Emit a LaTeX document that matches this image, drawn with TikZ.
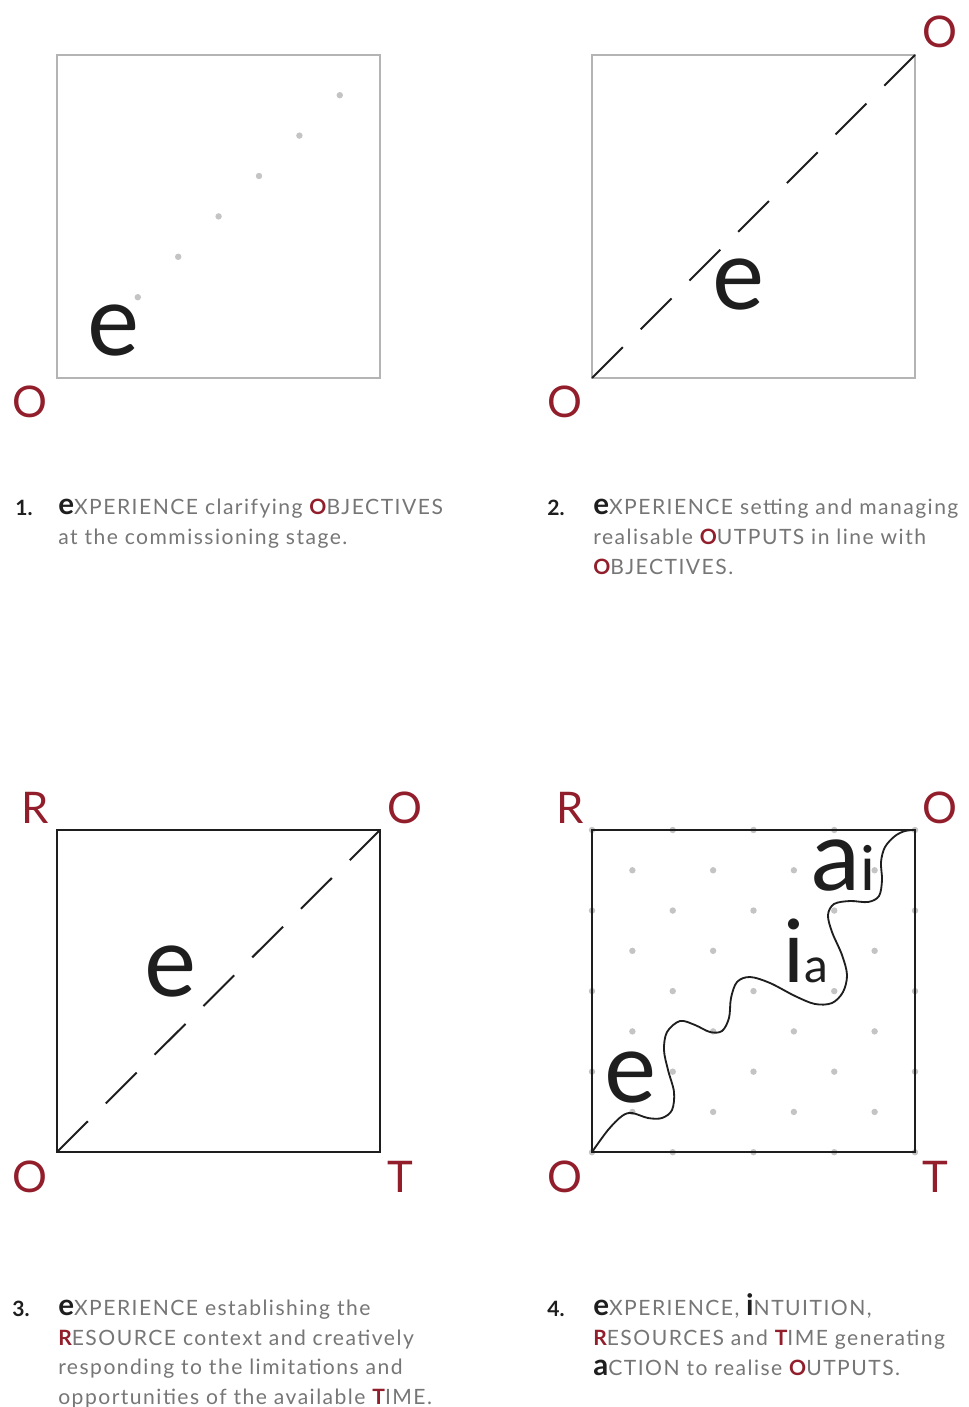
\documentclass[tikz,border=0pt]{standalone}
\usepackage{fontspec}
\setmainfont{Lato}
\definecolor{wine}{RGB}{146,30,44}
\definecolor{ink}{RGB}{30,30,30}
\definecolor{prose}{RGB}{118,118,118}
\definecolor{frame}{RGB}{180,180,180}
\definecolor{speck}{RGB}{196,196,196}
\newcommand{\lead}[1]{{\color{ink}\fontsize{21}{21}\selectfont\bfseries #1}}
\newcommand{\keyc}[1]{{\color{wine}\bfseries #1}}

\begin{document}
\begin{tikzpicture}[x=0.025cm, y=-0.025cm,
        corner/.style={text=wine, font=\fontsize{31}{31}\selectfont, inner sep=0pt},
        bigletter/.style={text=ink, font=\fontsize{70}{70}\selectfont, inner sep=0pt},
        caption/.style={text=prose, font=\fontsize{15}{21}\selectfont\addfontfeature{LetterSpace=7},
                        align=left, inner sep=0pt, anchor=base west},
        number/.style={text=ink, font=\fontsize{15}{21}\selectfont\bfseries,
                       inner sep=0pt, anchor=base west},
        light/.style={draw=frame, line width=1.8pt},
        heavy/.style={draw=ink, line width=1.7pt},
        diag/.style={draw=ink, line width=1.4pt, dash pattern=on 31pt off 18pt},
        wave/.style={draw=ink, line width=1.3pt}
    ]
    \useasboundingbox[fill=white] (0,0) rectangle (968,1407);

    % panel corners
    \coordinate (p1sw) at (57,378);  \coordinate (p1ne) at (380,55);
    \coordinate (p2sw) at (592,378); \coordinate (p2ne) at (915,55);
    \coordinate (p3sw) at (57,1152); \coordinate (p3ne) at (380,830);
    \coordinate (p4sw) at (592,1152);\coordinate (p4ne) at (915,830);

    % 1
    \foreach \k in {2,...,7}
        \fill[speck] (57+40.4*\k, 378-40.4*\k) circle (3.2);
    \draw[light] (p1sw) rectangle (p1ne);
    \node[bigletter] (e1) at (113,331) {e};
    \node[corner] (o1) at (30,402) {O};

    % 2
    \draw[light] (p2sw) rectangle (p2ne);
    \draw[diag] (p2sw) -- (p2ne);
    \node[bigletter] (e2) at (738,285) {e};
    \node[corner] (o2a) at (565,402) {O};
    \node[corner] (o2b) at (940,32) {O};

    % 3
    \draw[heavy] (p3sw) rectangle (p3ne);
    \draw[diag] (p3sw) -- (p3ne);
    \node[bigletter] (e3) at (170,972) {e};
    \node[corner] (r3) at (35,808) {R};
    \node[corner] (o3a) at (405,808) {O};
    \node[corner] (o3b) at (30,1177) {O};
    \node[corner] (t3) at (400,1177) {T};

    % 4
    \foreach \i in {0,...,8}
        \foreach \j in {0,...,8} {
            \pgfmathtruncatemacro{\odd}{mod(\i+\j,2)}
            \ifnum\odd=0
                \fill[speck] (592+40.375*\i, 830+40.275*\j) circle (3.2);
            \fi
        }
    \draw[heavy] (p4sw) rectangle (p4ne);
    \draw[wave] plot[smooth, tension=0.55] coordinates {(p4sw) (608,1130) (622,1116)
        (632,1113) (648,1118) (662,1118) (672,1110) (674,1092) (668,1070) (664,1050)
        (667,1032) (680,1021) (695,1025) (710,1032) (722,1031) (729,1018) (731,998)
        (737,982) (750,977) (770,983) (795,996) (815,1004) (832,1003) (843,992)
        (847,975) (842,955) (832,932) (828,915) (834,904) (850,901) (868,902)
        (879,896) (882,880) (881,862) (885,847) (895,836) (905,831) (p4ne)};
    \node[bigletter] (e4) at (630,1078) {e};
    \node[bigletter, font=\fontsize{62}{62}\selectfont, anchor=base west] (ia) at (783,982)
        {i\fontsize{34}{34}\selectfont a};
    \node[bigletter, anchor=base west] (ai) at (811,890)
        {a\fontsize{44}{44}\selectfont i};
    \node[corner] (r4) at (570,808) {R};
    \node[corner] (o4a) at (940,808) {O};
    \node[corner] (o4b) at (565,1177) {O};
    \node[corner] (t4) at (935,1177) {T};

    % captions (anchored on the last line)
    \node[number] (n1) at (15,515) {1.};
    \node[caption] (c1) at (58,544.5)
        {\lead{e}XPERIENCE clarifying \keyc{O}BJECTIVES\\at the commissioning stage.};
    \node[number] (n2) at (547,515) {2.};
    \node[caption] (c2) at (593,574)
        {\lead{e}XPERIENCE setting and managing\\realisable \keyc{O}UTPUTS in line with\\\keyc{O}BJECTIVES.};
    \node[number] (n3) at (12,1316) {3.};
    \node[caption] (c3) at (58,1404.5)
        {\lead{e}XPERIENCE establishing the\\\keyc{R}ESOURCE context and creatively\\responding to the limitations and\\opportunities of the available \keyc{T}IME.};
    \node[number] (n4) at (547,1316) {4.};
    \node[caption] (c4) at (593,1375)
        {\lead{e}XPERIENCE, \lead{i}NTUITION,\\\keyc{R}ESOURCES and \keyc{T}IME generating\\\lead{a}CTION to realise \keyc{O}UTPUTS.};
\end{tikzpicture}
\end{document}
